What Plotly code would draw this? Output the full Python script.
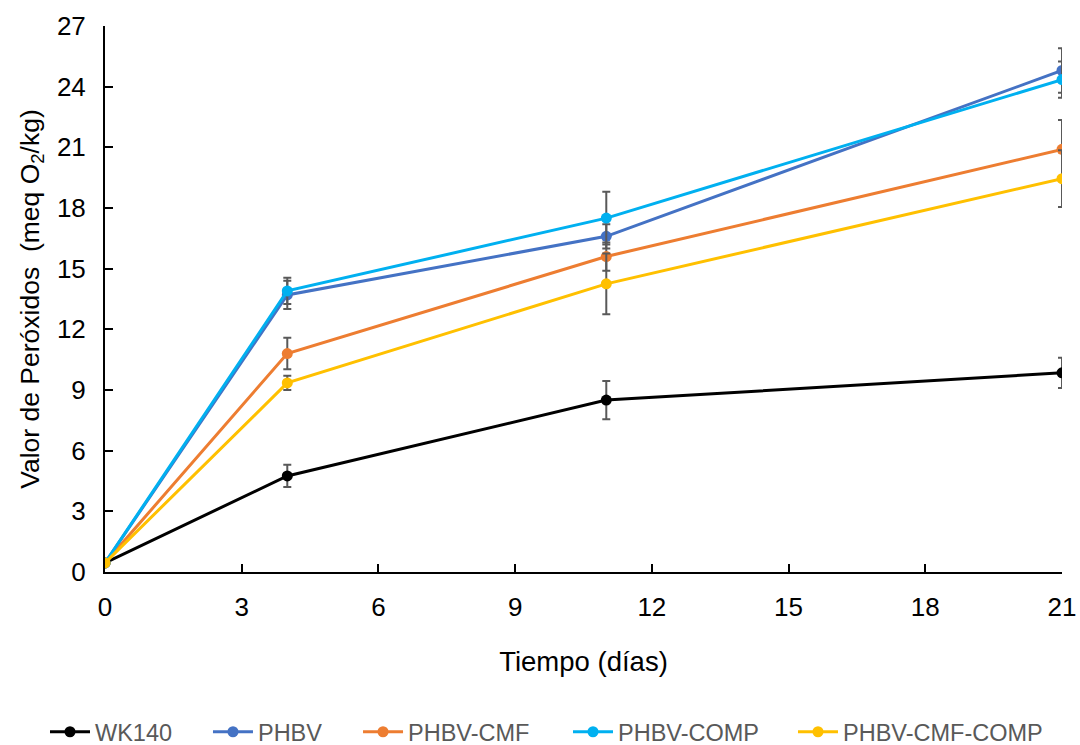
import plotly.graph_objects as go

days = [0, 4, 11, 21]
series_names = ["WK140", "PHBV", "PHBV-CMF", "PHBV-COMP", "PHBV-CMF-COMP"]
wk140 = [0.45, 4.75, 8.5, 9.85]
wk140_err = [0, 0.55, 0.95, 0.75]
phbv = [0.45, 13.7, 16.6, 24.8]
phbv_err = [0, 0.7, 0.6, 1.1]
phbv_cmf = [0.45, 10.8, 15.6, 20.9]
phbv_cmf_err = [0, 0.78, 0.7, 1.45]
phbv_comp = [0.45, 13.9, 17.5, 24.35]
phbv_comp_err = [0, 0.65, 1.3, 0.9]
phbv_cmf_comp = [0.45, 9.35, 14.25, 19.45]
phbv_cmf_comp_err = [0, 0.35, 1.5, 1.4]
colors = ["#000000", "#4472C4", "#ED7D31", "#00B0F0", "#FFC000"]
y_ticks = [0, 3, 6, 9, 12, 15, 18, 21, 24, 27]
x_ticks = [0, 3, 6, 9, 12, 15, 18, 21]

values = [wk140, phbv, phbv_cmf, phbv_comp, phbv_cmf_comp]
errors = [wk140_err, phbv_err, phbv_cmf_err, phbv_comp_err, phbv_cmf_comp_err]
legend_ids = ["legend", "legend2", "legend3", "legend4", "legend5"]
legend_x = [-0.0627, 0.1076, 0.2644, 0.4838, 0.7189]

fig = go.Figure()
for name, v, e, c, lid in zip(series_names, values, errors, colors, legend_ids):
    fig.add_trace(go.Scatter(
        x=days, y=v, name=name, mode="lines+markers",
        line=dict(color=c, width=3),
        marker=dict(color=c, size=11),
        legend=lid,
        error_y=dict(type="data", array=e, visible=True, color="#595959",
                     thickness=2, width=4),
    ))

font_family = "Liberation Sans"
legend_layouts = {}
for lid, lx in zip(legend_ids, legend_x):
    legend_layouts[lid] = dict(orientation="h", x=lx, xanchor="left", y=-0.293, yanchor="middle",
                               font=dict(size=23.5, color="#595959"), itemwidth=40,
                               bgcolor="rgba(0,0,0,0)")

fig.update_layout(
    width=1080, height=745,
    paper_bgcolor="white", plot_bgcolor="white",
    margin=dict(l=105, r=18, t=26, b=173, autoexpand=False),
    font=dict(family=font_family, color="#000000", size=25),
    showlegend=True,
    xaxis=dict(range=[0, 21], tickvals=x_ticks, ticks="inside", ticklen=8,
               tickcolor="#000000", tickwidth=1.5,
               showline=True, linecolor="#000000", linewidth=2,
               showgrid=False, zeroline=False, ticklabelstandoff=11,
               tickfont=dict(size=26, color="#000000"),
               title=dict(text="Tiempo (días)", font=dict(size=27.5, color="#000000"), standoff=31)),
    yaxis=dict(range=[0, 27], tickvals=y_ticks, ticks="inside", ticklen=8,
               tickcolor="#000000", tickwidth=1.5,
               showline=True, linecolor="#000000", linewidth=2,
               showgrid=False, zeroline=False, ticklabelstandoff=12,
               tickfont=dict(size=26, color="#000000"),
               title=dict(text="Valor de Peróxidos  (meq O<sub>2</sub>/kg)",
                          font=dict(size=26.5, color="#000000"), standoff=10)),
    **legend_layouts,
)
fig.write_html("out.html", config={"displayModeBar": False},
               post_script="document.body.style.margin='0';document.body.style.overflow='hidden';")
